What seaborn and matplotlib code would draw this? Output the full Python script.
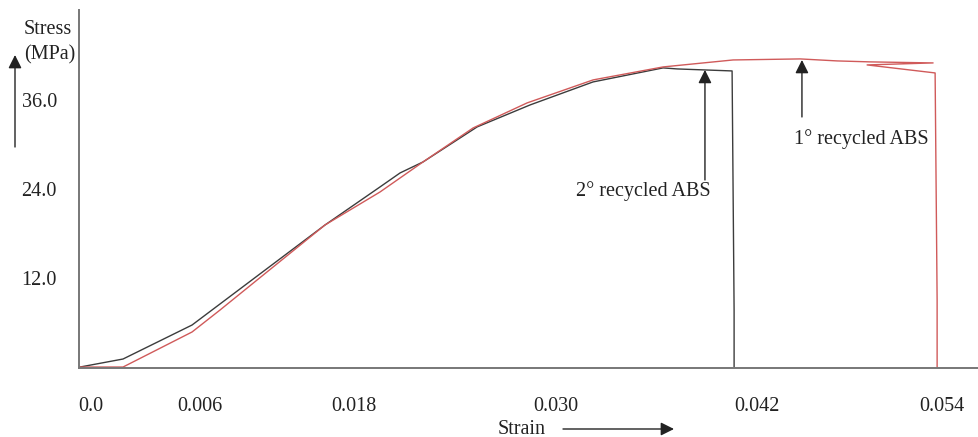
import numpy as np
import pandas as pd
import matplotlib
matplotlib.use("Agg")
import matplotlib.pyplot as plt
import seaborn as sns

# ---- data ----
strain_2 = [0.00164, 0.00421, 0.00833, 0.00952, 0.01627, 0.01955, 0.02075, 0.02212,
            0.02535, 0.02851, 0.03227, 0.03645, 0.03729, 0.04057, 0.04069, 0.04069]
stress_2 = [0.0, 1.08, 5.66, 7.68, 19.14, 24.26, 26.15, 27.63,
            32.35, 35.31, 38.41, 40.30, 40.16, 39.89, 7.68, 0.0]

strain_1 = [0.00164, 0.00421, 0.00833, 0.01000, 0.01627, 0.01955, 0.02212, 0.02511,
            0.02833, 0.03227, 0.03645, 0.04063, 0.04463, 0.04684, 0.04881, 0.05257,
            0.04863, 0.05269, 0.05281, 0.05281]
stress_1 = [0.0, 0.0, 4.72, 7.68, 19.14, 23.58, 27.63, 32.21,
            35.58, 38.68, 40.43, 41.37, 41.51, 41.24, 41.11, 40.97,
            40.70, 39.62, 9.0, 0.0]

x_tick_labels = ["0.0", "0.006", "0.018", "0.030", "0.042", "0.054"]
y_tick_values = [12.0, 24.0, 36.0]
series_names = ["2° recycled ABS", "1° recycled ABS"]

# ---- layout ----
W, H = 979, 437
x_tick_pos = [0.002299, 0.008806, 0.018, 0.03006, 0.04206, 0.05310]

df = pd.concat([
    pd.DataFrame({"strain": strain_2, "stress": stress_2, "sample": series_names[0]}),
    pd.DataFrame({"strain": strain_1, "stress": stress_1, "sample": series_names[1]}),
], ignore_index=True)

sns.set_style("white")
plt.rcParams["font.family"] = ["Liberation Serif", "DejaVu Serif"]

fig = plt.figure(figsize=(W / 100, H / 100), dpi=100)
ax = fig.add_axes([79 / W, (H - 368) / H, (W - 79) / W, (368 - 10) / H])

sns.lineplot(data=df, x="strain", y="stress", hue="sample", sort=False,
             estimator=None, palette={series_names[0]: "#3c3c3c", series_names[1]: "#d05a5a"},
             linewidth=1.0, legend=False, ax=ax)

ax.set_xlim(0.001582, 0.05531)
ax.set_ylim(-0.13, 48.1)
ax.set_xticks(x_tick_pos, x_tick_labels)
ax.set_yticks(y_tick_values, [f"{v:.1f}" for v in y_tick_values])
ax.tick_params(axis="x", length=0, pad=21, labelsize=14.5, colors="#222222")
ax.tick_params(axis="y", length=0, pad=16, labelsize=14.5, colors="#222222")
ax.set_xlabel("")
ax.set_ylabel("")
for s in ["top", "right"]:
    ax.spines[s].set_visible(False)
for s in ["left", "bottom"]:
    ax.spines[s].set_color("#777777")
    ax.spines[s].set_linewidth(1.4)

# annotations with arrows
arrow_kw = dict(arrowstyle="-|>", mutation_scale=20, color="#222222", lw=1.0,
                shrinkA=0, shrinkB=0)
ax.annotate("", xy=(0.03895, 40.03), xytext=(0.03895, 25.2), arrowprops=arrow_kw)
ax.text(0.03525, 23.72, series_names[0], ha="center", va="center", fontsize=14.5, color="#222222")
ax.annotate("", xy=(0.04474, 41.37), xytext=(0.04474, 33.69), arrowprops=arrow_kw)
ax.text(0.04827, 30.73, series_names[1], ha="center", va="center", fontsize=14.5, color="#222222")

# axis titles with arrows (figure coords)
def fx(px):
    return px / W

def fy(py):
    return 1 - py / H

fig.text(fx(24), fy(29), "Stress", ha="left", va="center", fontsize=14.5, color="#222222")
fig.text(fx(24), fy(55), "(MPa)", ha="left", va="center", fontsize=14.5, color="#222222")
ax.annotate("", xy=(fx(15), fy(55)), xytext=(fx(15), fy(147)), xycoords="figure fraction",
            textcoords="figure fraction", arrowprops=arrow_kw, annotation_clip=False)
fig.text(fx(522), fy(429), "Strain", ha="center", va="center", fontsize=14.5, color="#222222")
ax.annotate("", xy=(fx(674), fy(429)), xytext=(fx(563), fy(429)), xycoords="figure fraction",
            textcoords="figure fraction", arrowprops=arrow_kw, annotation_clip=False)

fig.savefig("out.png", dpi=100, facecolor="white")
